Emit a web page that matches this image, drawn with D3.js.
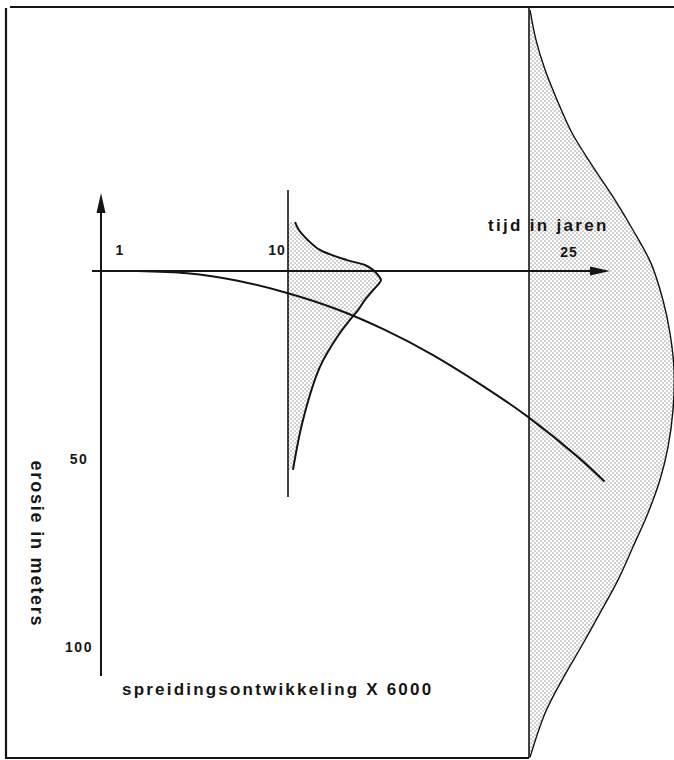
<!DOCTYPE html>
<html>
<head>
<meta charset="utf-8">
<script src="https://cdn.jsdelivr.net/npm/d3@7"></script>
<style>
  body { margin: 0; background: #fff; }
  svg { display: block; }
  text { font-family: "Liberation Sans", Arial, sans-serif; font-weight: bold; fill: #161616; }
</style>
</head>
<body>
<svg id="chart" width="674" height="760"></svg>
<script>
// Mean erosion (m) against time (years)
const years   = [1, 4, 7, 10, 13, 16, 19, 22, 25, 28, 29.7];
const erosion = [0, 0.6, 2.6, 5.9, 10.1, 15.6, 22.3, 30.2, 39, 49.3, 56];

// Spread of the erosion after 10 years (spread x 6000, arbitrary units)
const spread10Erosion = [-13.0, -10.9, -8.2, -5.6, -2.9, -1.6, -0.3, 1.1, 2.4, 5.1, 7.7, 10.4, 13.0, 17.6, 25.5, 39.6, 52.9];
const spread10Value   = [4.7, 7.3, 13.3, 21.3, 39.3, 51.3, 56.7, 60, 62, 56.7, 51.3, 46.7, 41.3, 32.7, 21.3, 10, 3.3];

// Spread of the erosion after 25 years
const spread25Erosion = [-69.4, -61.4, -53.5, -45.5, -36.7, -27.7, -18.9, -10.9, -2.1, 7.7, 16.5, 26.3, 37.0, 46.8, 55.6, 64.4, 73.4, 82.2, 91.0, 100.0, 108.8, 117.6, 129.3];
const spread25Value   = [0.7, 4.7, 10.7, 18.7, 28.7, 42.7, 57.3, 69.3, 81.3, 89.3, 94, 96.7, 96, 92.7, 87.3, 79.3, 69.3, 59.3, 47.3, 34.7, 22, 10.7, 0.7];

// Tick labels
const timeTicks    = ["1", "10", "25"];
const erosionTicks = ["50", "100"];

const svg = d3.select("#chart");

// Scales: time runs left to right, erosion runs downward
const x = d3.scaleLinear().domain([1, 10, 25]).range([137, 288, 529]);
const y = d3.scaleLinear().domain([0, 100]).range([271, 647]);
const w = d3.scaleLinear().domain([0, 100]).range([0, 150]);

const ink = "#141414";

// Stipple pattern for the spread areas
const defs = svg.append("defs");
const pat = defs.append("pattern")
  .attr("id", "stipple")
  .attr("patternUnits", "userSpaceOnUse")
  .attr("width", 4).attr("height", 4);
pat.append("circle").attr("cx", 1).attr("cy", 1).attr("r", 0.75).attr("fill", "#707070");
pat.append("circle").attr("cx", 3).attr("cy", 3).attr("r", 0.75).attr("fill", "#707070");

// Frame (open at the lower right)
svg.append("path")
  .attr("d", "M10,7 L674,7 M6,8 L6,758 L" + x(25) + ",758")
  .attr("fill", "none").attr("stroke", ink).attr("stroke-width", 2.2);

// Spread curves, drawn sideways against their year line
function drawSpread(year, es, vs, baseTop, baseBottom, strokeW) {
  const pts = es.map((e, i) => ({ e, v: vs[i] }));
  const x0 = x(year);
  svg.append("path")
    .datum(pts)
    .attr("d", d3.area()
      .curve(d3.curveCatmullRom)
      .y(d => y(d.e))
      .x0(x0)
      .x1(d => x0 + w(d.v)))
    .attr("fill", "url(#stipple)")
    .attr("opacity", 0.8);
  svg.append("path")
    .datum(pts)
    .attr("d", d3.line()
      .curve(d3.curveCatmullRom)
      .y(d => y(d.e))
      .x(d => x0 + w(d.v)))
    .attr("fill", "none")
    .attr("stroke", ink)
    .attr("stroke-width", strokeW);
  svg.append("line")
    .attr("x1", x0).attr("x2", x0)
    .attr("y1", baseTop).attr("y2", baseBottom)
    .attr("stroke", ink).attr("stroke-width", 1.6);
}

drawSpread(10, spread10Erosion, spread10Value, 190, 497, 2);
drawSpread(25, spread25Erosion, spread25Value, 7, 758, 1.4);

// Axes with arrowheads
const axisTop = 193, axisBottom = 676, axisLeft = 92, axisRight = 610;
const yAxisX = 101;
svg.append("line")
  .attr("x1", yAxisX).attr("x2", yAxisX)
  .attr("y1", axisTop + 8).attr("y2", axisBottom)
  .attr("stroke", ink).attr("stroke-width", 2);
svg.append("path")
  .attr("d", `M${yAxisX},${axisTop} L${yAxisX + 4.5},${axisTop + 20} L${yAxisX - 4.5},${axisTop + 20} Z`)
  .attr("fill", ink);

svg.append("line")
  .attr("x1", axisLeft).attr("x2", axisRight - 8)
  .attr("y1", y(0)).attr("y2", y(0))
  .attr("stroke", ink).attr("stroke-width", 2.2);
svg.append("path")
  .attr("d", `M${axisRight},${y(0)} L${axisRight - 20},${y(0) - 4.5} L${axisRight - 20},${y(0) + 4.5} Z`)
  .attr("fill", ink);

// Mean erosion curve
svg.append("path")
  .datum(years.map((t, i) => [t, erosion[i]]))
  .attr("d", d3.line()
    .curve(d3.curveNatural)
    .x(d => x(d[0]))
    .y(d => y(d[1])))
  .attr("fill", "none")
  .attr("stroke", ink)
  .attr("stroke-width", 2);

// Time tick labels
const timeOffsets = [-17, -11, 40];
const timeBaselines = [255, 255, 257];
svg.selectAll("text.tt")
  .data(timeTicks)
  .join("text")
  .attr("class", "tt")
  .attr("x", (d, i) => x(+d) + timeOffsets[i])
  .attr("y", (d, i) => timeBaselines[i])
  .attr("text-anchor", "middle")
  .attr("font-size", 14)
  .attr("letter-spacing", 1)
  .text(d => d);

// Erosion tick labels
svg.selectAll("text.et")
  .data(erosionTicks)
  .join("text")
  .attr("class", "et")
  .attr("x", 79)
  .attr("y", d => y(+d) + 5)
  .attr("text-anchor", "middle")
  .attr("font-size", 14)
  .attr("letter-spacing", 1.5)
  .text(d => d);

// Axis titles
svg.append("text")
  .attr("x", 488).attr("y", 231)
  .attr("font-size", 17)
  .attr("letter-spacing", 2.3)
  .text("tijd in jaren");

svg.append("text")
  .attr("transform", "translate(31,544) rotate(90)")
  .attr("text-anchor", "middle")
  .attr("font-size", 18)
  .attr("letter-spacing", 1.8)
  .text("erosie in meters");

svg.append("text")
  .attr("x", 122).attr("y", 695)
  .attr("font-size", 17)
  .attr("letter-spacing", 2.2)
  .text("spreidingsontwikkeling X 6000");
</script>
</body>
</html>
